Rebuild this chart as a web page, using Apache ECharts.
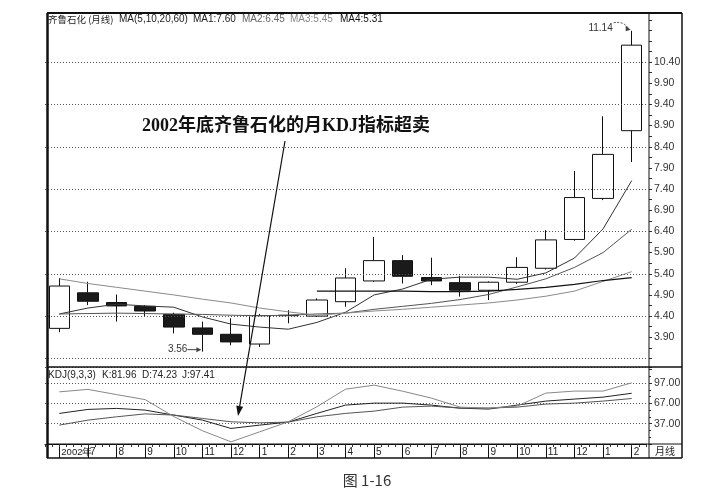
<!DOCTYPE html>
<html lang="zh-CN">
<head>
<meta charset="utf-8">
<style>html,body{margin:0;height:100%;background:#fff}#main{width:710px;height:491px}</style>
</head>
<body>
<div id="main"></div>
<script src="https://cdn.jsdelivr.net/npm/echarts@6/dist/echarts.min.js"></script>
<script>
// 月线 2002-06 .. 2004-02
var months = ['2002年','7','8','9','10','11','12','1','2','3','4','5','6','7','8','9','10','11','12','1','2'];
var opens  = [4.11,4.95,4.72,4.63,4.44,4.12,3.97,3.74,4.41,4.40,4.74,5.23,5.71,5.31,5.19,5.01,5.20,5.53,6.21,7.18,8.78];
var closes = [5.11,4.75,4.64,4.52,4.14,3.97,3.79,4.41,4.42,4.78,5.30,5.71,5.34,5.23,5.01,5.20,5.55,6.20,7.20,8.22,10.80];
var lows   = [4.02,4.66,4.27,4.38,3.99,3.56,3.71,3.67,4.23,4.38,4.62,5.21,5.17,5.13,4.86,4.78,5.16,5.50,6.18,7.14,8.04];
var highs  = [5.30,5.21,4.91,4.66,4.48,4.27,4.35,4.45,4.54,4.82,5.53,6.27,5.84,5.78,5.35,5.22,5.79,6.43,7.83,9.12,11.14];

var ma1 = [4.45,4.59,4.68,4.64,4.61,4.38,4.21,4.14,4.09,4.25,4.49,4.90,5.04,5.27,5.32,5.32,5.27,5.42,5.77,6.46,7.60];
var ma2 = [4.45,4.46,4.47,4.46,4.45,4.44,4.42,4.41,4.42,4.45,4.47,4.56,4.63,4.70,4.79,4.91,5.09,5.28,5.55,5.90,6.45];
var ma3 = [5.28,5.17,5.08,4.99,4.90,4.80,4.71,4.59,4.50,4.42,4.47,4.52,4.56,4.61,4.66,4.71,4.78,4.87,4.99,5.22,5.45];
var ma4 = ['-','-','-','-','-','-','-','-','-',4.99,4.99,4.99,4.99,4.98,4.98,4.99,5.03,5.08,5.15,5.24,5.31];

var kLine = [52.2,58.1,59.6,57.1,49.7,42.3,30.0,34.9,39.4,52.2,64.5,67.4,67.4,64.5,60.0,58.6,64.5,70.4,73.4,76.3,81.96];
var dLine = [34.9,42.3,47.2,51.5,49.7,44.8,39.8,38.3,39.4,47.2,52.2,55.6,61.5,63.0,60.1,60.1,61.5,66.0,67.4,70.4,74.23];
var jLine = [84.1,87.7,80.0,72.6,47.6,26.6,10.2,25.0,39.8,62.0,88.0,94.0,85.0,74.8,61.5,60.1,63.0,82.2,85.2,85.2,97.41];

var priceLabels = [3.9,4.4,4.9,5.4,5.9,6.4,6.9,7.4,7.9,8.4,8.9,9.4,9.9,10.4];
var gridLevels = [3.4,4.4,5.4,6.4,7.4,8.4,9.4,10.4];
var kdjLabels = [37,67,97];

var FONT = '"Liberation Sans", Arial, sans-serif';
var CJK = '"Noto Sans CJK SC", sans-serif';

var chart = echarts.init(document.getElementById('main'));

function last(a){ return a[a.length-1].toFixed(2); }
function ln(x1,y1,x2,y2,w,c){
  return {type:'line',shape:{x1:x1,y1:y1,x2:x2,y2:y2},style:{stroke:c||'#111',lineWidth:w||1},silent:true,z:50};
}
function tx(x,y,t,o){
  return {type:'text',x:x,y:y,silent:true,z:60,
    style:Object.assign({text:t,fill:'#222',font:'10px '+FONT,verticalAlign:'middle',align:'left'},o||{})};
}

var frame = [
  ln(47,13,682,13,2), ln(47.5,13,47.5,458,2.5), ln(682,13,682,458,1.5), ln(47,458,682,458,1.5),
  ln(649,13,649,458,1), ln(47,367,682,367,1.5), ln(47,444,682,444,1),
  tx(48,19,'齐鲁石化 (月线)',{font:'9.5px '+CJK}),
  tx(119,19,'MA(5,10,20,60)'),
  tx(193,19,'MA1:'+last(ma1),{fill:'#222'}),
  tx(242,19,'MA2:'+last(ma2),{fill:'#666'}),
  tx(290,19,'MA3:'+last(ma3),{fill:'#888'}),
  tx(340,19,'MA4:'+last(ma4),{fill:'#111'}),
  tx(48,375,'KDJ(9,3,3)'),
  tx(102,375,'K:'+last(kLine)),
  tx(142,375,'D:'+last(dLine)),
  tx(182,375,'J:'+last(jLine)),
  tx(665,451,'月线',{font:'10px '+CJK,align:'center'}),
  tx(367,480,'图 1-16',{font:'15px '+CJK,align:'center',fill:'#333'}),
  tx(286,126,'2002年底齐鲁石化的月KDJ指标超卖',{font:'bold 18px "Liberation Serif", '+CJK,align:'center',fill:'#111'})
];

// 注释箭头
(function(){
  var sx=285, sy=141, ex=238, ey=416;
  var dx=ex-sx, dy=ey-sy, L=Math.sqrt(dx*dx+dy*dy); dx/=L; dy/=L;
  var bx=ex-dx*10, by=ey-dy*10;
  frame.push(ln(sx,sy,bx,by,1.2));
  frame.push({type:'polygon',silent:true,z:50,shape:{points:[[ex,ey],[bx+dy*3.5,by-dx*3.5],[bx-dy*3.5,by+dx*3.5]]},style:{fill:'#111'}});
})();

var option = {
  animation:false,
  backgroundColor:'#fff',
  grid:[
    {left:45, top:13, width:601, height:356},
    {left:45, top:367, width:601, height:77}
  ],
  xAxis:[
    {type:'category', gridIndex:0, data:months, boundaryGap:true, show:false},
    {type:'category', gridIndex:1, data:months, boundaryGap:true, position:'bottom',
      axisLine:{show:true, onZero:false, lineStyle:{color:'#111', width:1}},
      axisTick:{show:true, alignWithLabel:true, interval:0, length:14, lineStyle:{color:'#111'}},
      axisLabel:{interval:0, align:'left', margin:3, padding:[0,0,0,2], fontSize:10, color:'#222', fontFamily:FONT,
        formatter:function(v){ return v.length > 2 ? '{s|' + v + '}' : v; },
        rich:{s:{fontSize:9.5, fontFamily:FONT, color:'#222'}}}},
    {type:'value', gridIndex:1, position:'bottom', min:-0.5, max:20.5, interval:0.25,
      axisLine:{show:false, onZero:false}, axisTick:{show:true, length:3, lineStyle:{color:'#333'}},
      axisLabel:{show:false}, splitLine:{show:false}}
  ],
  yAxis:[
    {type:'value', gridIndex:0, position:'right', offset:3, min:3.15, max:11.56, interval:0.25,
      axisLine:{show:false, onZero:false}, splitLine:{show:false},
      axisTick:{show:true, length:3, lineStyle:{color:'#333'}},
      axisLabel:{margin:5, fontSize:10.5, color:'#333', fontFamily:FONT,
        formatter:function(v){ return priceLabels.some(function(p){return Math.abs(p-v)<1e-6;}) ? v.toFixed(2) : ''; }}},
    {type:'value', gridIndex:1, position:'right', offset:3, min:7, max:120.8, interval:30,
      axisLine:{show:false, onZero:false},
      splitLine:{show:true, lineStyle:{color:'#555', type:[1,2], width:1}},
      axisTick:{show:true, length:3, lineStyle:{color:'#333'}},
      minorTick:{show:true, splitNumber:3, length:2, lineStyle:{color:'#333'}},
      axisLabel:{margin:5, fontSize:10.5, color:'#333', fontFamily:FONT,
        formatter:function(v){ return kdjLabels.some(function(p){return Math.abs(p-v)<1e-6;}) ? v.toFixed(2) : ''; }}}
  ],
  series:[
    {type:'candlestick', xAxisIndex:0, yAxisIndex:0, barWidth:21, z:1,
      data:opens.map(function(o,i){ return [o, closes[i], lows[i], highs[i]]; }),
      itemStyle:{color:'#fff', color0:'#1a1a1a', borderColor:'#111', borderColor0:'#111', borderWidth:1},
      markLine:{silent:true, symbol:['none','none'], label:{show:false},
        lineStyle:{color:'#555', type:[1,2], width:1},
        data:gridLevels.map(function(v){ return {yAxis:v}; })}},
    {name:'MA1', type:'line', xAxisIndex:0, yAxisIndex:0, data:ma1, symbol:'none', z:3, lineStyle:{color:'#333', width:1}},
    {name:'MA2', type:'line', xAxisIndex:0, yAxisIndex:0, data:ma2, symbol:'none', z:3, lineStyle:{color:'#555', width:1}},
    {name:'MA3', type:'line', xAxisIndex:0, yAxisIndex:0, data:ma3, symbol:'none', z:3, lineStyle:{color:'#8a8a8a', width:1}},
    {name:'MA4', type:'line', xAxisIndex:0, yAxisIndex:0, data:ma4, symbol:'none', z:3, lineStyle:{color:'#111', width:1.2}},
    {name:'K', type:'line', xAxisIndex:1, yAxisIndex:1, data:kLine, symbol:'none', lineStyle:{color:'#222', width:1}},
    {name:'D', type:'line', xAxisIndex:1, yAxisIndex:1, data:dLine, symbol:'none', lineStyle:{color:'#555', width:1}},
    {name:'J', type:'line', xAxisIndex:1, yAxisIndex:1, data:jLine, symbol:'none', lineStyle:{color:'#888', width:1}}
  ],
  graphic:frame
};
chart.setOption(option);

// 最高/最低价标注
var hiIdx = highs.indexOf(Math.max.apply(null, highs));
var loIdx = lows.indexOf(Math.min.apply(null, lows));
var hp = chart.convertToPixel({seriesIndex:0}, [hiIdx, highs[hiIdx]]);
var lp = chart.convertToPixel({seriesIndex:0}, [loIdx, lows[loIdx]]);
var marks = frame.concat([
  tx(hp[0]-19, hp[1]-3, highs[hiIdx].toFixed(2), {align:'right', fill:'#333'}),
  {type:'bezierCurve', silent:true, z:60,
    shape:{x1:hp[0]-18, y1:hp[1]-8, x2:hp[0]-3, y2:hp[1]-2, cpx1:hp[0]-8, cpy1:hp[1]-10},
    style:{stroke:'#444', lineWidth:1, lineDash:[2,1.5], fill:null}},
  {type:'polygon', silent:true, z:60, shape:{points:[[hp[0]-1,hp[1]-1],[hp[0]-6,hp[1]-5],[hp[0]-6,hp[1]+0.5]]}, style:{fill:'#444'}},
  tx(lp[0]-15, lp[1]-2, lows[loIdx].toFixed(2), {align:'right', fill:'#333'}),
  ln(lp[0]-15, lp[1]-2, lp[0]-3, lp[1]-2, 1, '#444'),
  {type:'polygon', silent:true, z:60, shape:{points:[[lp[0]-1,lp[1]-2],[lp[0]-6,lp[1]-4.5],[lp[0]-6,lp[1]+0.5]]}, style:{fill:'#444'}}
]);
chart.setOption({graphic:marks}, {replaceMerge:['graphic']});
</script>
</body>
</html>
